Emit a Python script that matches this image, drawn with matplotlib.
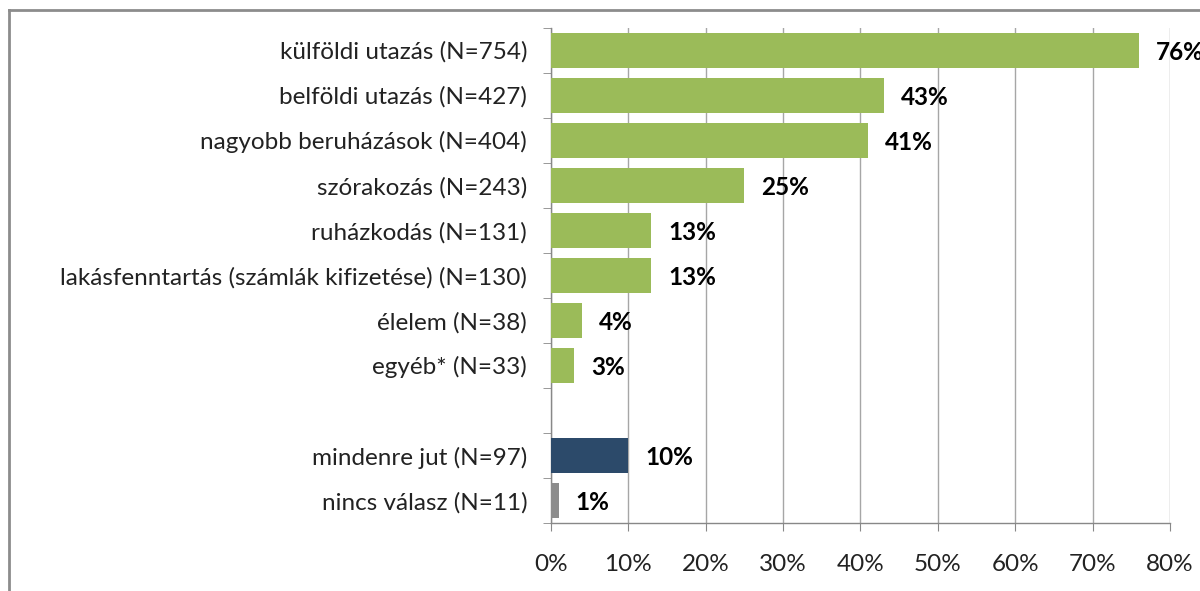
import numpy as np
import matplotlib.pyplot as plt
from matplotlib.lines import Line2D

# Data
categories = [
    "külföldi utazás (N=754)",
    "belföldi utazás (N=427)",
    "nagyobb beruházások (N=404)",
    "szórakozás (N=243)",
    "ruházkodás (N=131)",
    "lakásfenntartás (számlák kifizetése) (N=130)",
    "élelem (N=38)",
    "egyéb* (N=33)",
    "mindenre jut (N=97)",
    "nincs válasz (N=11)",
]
values = [76, 43, 41, 25, 13, 13, 4, 3, 10, 1]
groups = ["item"] * 8 + ["all", "none"]
colors = {"item": "#9BBB59", "all": "#2C4A6A", "none": "#8C8C8C"}
x_ticks = [0, 10, 20, 30, 40, 50, 60, 70, 80]

plt.rcParams['font.family'] = ['Lato', 'DejaVu Sans']

fig = plt.figure(figsize=(12, 5.91), dpi=100)
ax = fig.add_axes([0.459, 0.115, 0.516, 0.838])

# slot positions, with an empty slot before the "mindenre jut" group
idx = np.arange(len(categories))
slots = idx + (idx >= 8)
n_slots = slots.max() + 1

ax.barh(slots, values, height=0.77, color=[colors[g] for g in groups], zorder=3)

for s, v in zip(slots, values):
    ax.text(v + 2.2, s + 0.05, f"{v}%", va="center", ha="left", fontsize=17.5,
            fontweight="bold", color="black", zorder=4)

ax.set_xlim(0, 80)
ax.set_ylim(n_slots - 0.5, -0.5)
ax.set_xticks(x_ticks)
ax.set_xticklabels([f"{t}%" for t in x_ticks], fontsize=17.5, color="#222222")
ax.set_yticks(slots)
ax.set_yticklabels(categories, fontsize=17.5, color="#222222")
ax.set_yticks(np.arange(-0.5, n_slots, 1.0), minor=True)

ax.tick_params(axis="y", which="major", length=0, pad=17)
ax.tick_params(axis="y", which="minor", length=6, color="#888888", direction="out")
ax.tick_params(axis="x", length=6, color="#888888", direction="out", pad=16)

ax.grid(axis="x", color="#A6A6A6", linewidth=1.0, zorder=0)
for sp in ["top", "right"]:
    ax.spines[sp].set_visible(False)
for sp in ["left", "bottom"]:
    ax.spines[sp].set_color("#888888")
    ax.spines[sp].set_linewidth(1.0)

# outer chart border (only top and left edges visible in frame)
fig.add_artist(Line2D([9 / 1200, 9 / 1200], [0, 1 - 10 / 591],
                      transform=fig.transFigure, color="#8C8C8C", linewidth=2))
fig.add_artist(Line2D([9 / 1200, 1], [1 - 10 / 591, 1 - 10 / 591],
                      transform=fig.transFigure, color="#8C8C8C", linewidth=2))

fig.savefig("out.png", dpi=100)
